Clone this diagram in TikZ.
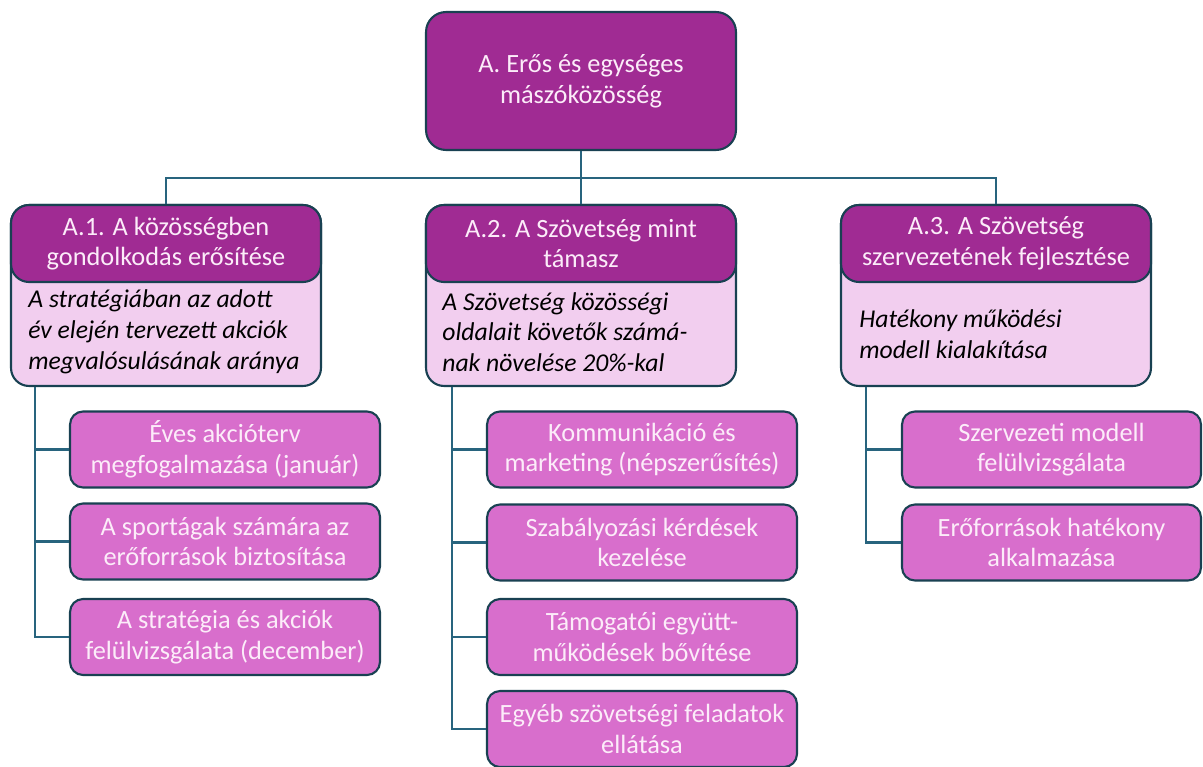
\documentclass[tikz,border=0pt]{standalone}
\usepackage{fontspec}
\setmainfont{Carlito}
\usetikzlibrary{positioning}
\definecolor{darkplum}{RGB}{160,43,147}
\definecolor{lightplum}{RGB}{242,206,239}
\definecolor{midplum}{RGB}{216,110,204}
\definecolor{rim}{RGB}{25,65,82}
\definecolor{wire}{RGB}{40,100,126}
\definecolor{paletext}{RGB}{252,236,249}

\begin{document}
\begin{tikzpicture}[x = 0.02cm, y = -0.02cm,
  box/.style = {draw = rim, line width = 1.2pt, shape = rectangle, align = center, font = \fontsize{15}{17.5}\selectfont},
  rootbox/.style = {box, fill = darkplum, text = paletext, rounded corners = 0.4cm, minimum width = 6.2cm, minimum height = 2.76cm},
  areabox/.style = {box, fill = lightplum, rounded corners = 0.36cm, minimum width = 6.2cm, minimum height = 3.62cm},
  headbox/.style = {box, fill = darkplum, text = paletext, rounded corners = 0.36cm, minimum width = 6.2cm, minimum height = 1.54cm},
  goaltext/.style = {shape = rectangle, anchor = west, align = left, inner sep = 0pt, font = \fontsize{14.6}{17.5}\selectfont\itshape},
  taskbox/.style = {box, fill = midplum, text = paletext, rounded corners = 0.26cm, minimum width = 6.2cm, minimum height = 1.52cm},
  link/.style = {draw = wire, line width = 1.2pt}]
\useasboundingbox (0,0) rectangle (1203,767);

\node[rootbox] (root) at (581,81) {A. Erős és egységes\\mászóközösség};

\node[areabox] (a1) at (166,295.5) {};
\node[headbox] (a1h) at (166,243.5) {A.1. A közösségben\\gondolkodás erősítése};
\node[goaltext] (a1g) at (28,332) {A stratégiában az adott\\év elején tervezett akciók\\megvalósulásának aránya};

\node[areabox] (a2) at (581,295.5) {};
\node[headbox] (a2h) at (581,243.5) {A.2. A Szövetség mint\\támasz};
\node[goaltext] (a2g) at (442,332) {A Szövetség közösségi\\oldalait követők számá-\\nak növelése 20\%-kal};

\node[areabox] (a3) at (996,295.5) {};
\node[headbox] (a3h) at (996,243.5) {A.3. A Szövetség\\szervezetének fejlesztése};
\node[goaltext] (a3g) at (859,334) {Hatékony működési\\modell kialakítása};

\node[taskbox] (t11) at (225,449.5) {Éves akcióterv\\megfogalmazása (január)};
\node[taskbox] (t12) at (225,541.5) {A sportágak számára az\\erőforrások biztosítása};
\node[taskbox] (t13) at (225,637) {A stratégia és akciók\\felülvizsgálata (december)};

\node[taskbox] (t21) at (642,449.5) {Kommunikáció és\\marketing (népszerűsítés)};
\node[taskbox] (t22) at (642,542.5) {Szabályozási kérdések\\kezelése};
\node[taskbox] (t23) at (642,637) {Támogatói együtt-\\működések bővítése};
\node[taskbox] (t24) at (642,729) {Egyéb szövetségi feladatok\\ellátása};

\node[taskbox, minimum width = 5.98cm] (t31) at (1051.5,449.5) {Szervezeti modell\\felülvizsgálata};
\node[taskbox, minimum width = 5.98cm] (t32) at (1051.5,542.5) {Erőforrások hatékony\\alkalmazása};

\coordinate (bus) at (581,178);
\draw[link] (root.south) -- (bus);
\draw[link] (a1.north) |- (bus) -| (a3.north);
\draw[link] (bus) -- (a2.north);

\foreach \t in {t11,t12,t13}
  \draw[link] ([xshift = 0.5cm]a1.south west) |- (\t.west);
\foreach \t in {t21,t22,t23,t24}
  \draw[link] ([xshift = 0.54cm]a2.south west) |- (\t.west);
\foreach \t in {t31,t32}
  \draw[link] ([xshift = 0.52cm]a3.south west) |- (\t.west);
\end{tikzpicture}
\end{document}
